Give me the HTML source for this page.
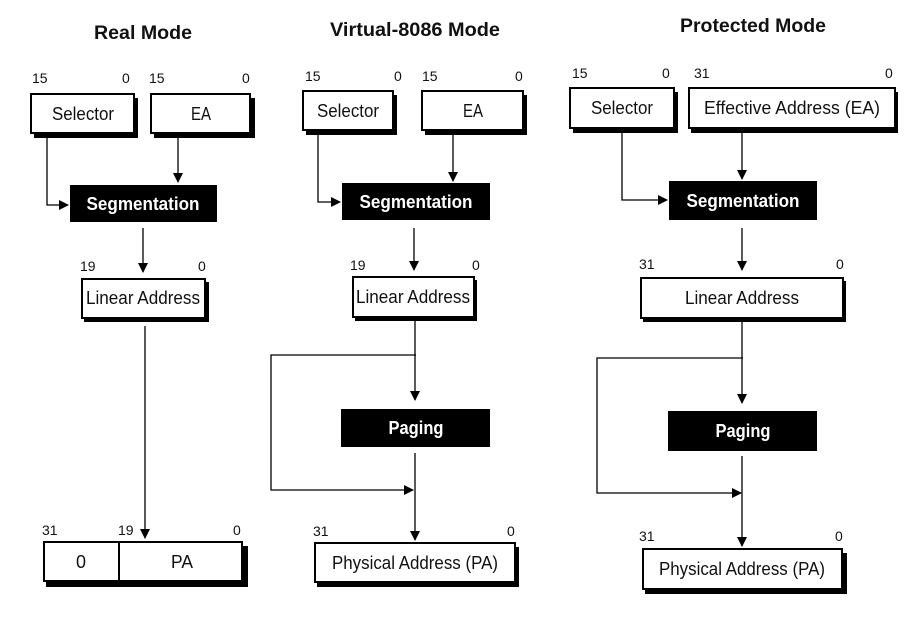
<!DOCTYPE html>
<html><head><meta charset="utf-8"><style>
html,body{margin:0;padding:0;background:#fff;}
svg{display:block}
text{font-family:"Liberation Sans Narrow","Liberation Sans",sans-serif;fill:#111;}
.t{font-size:19px;font-weight:bold;text-anchor:middle}
.n{font-size:14px}
.l{font-size:18px;text-anchor:middle}
.w{font-size:18px;font-weight:bold;fill:#fff;text-anchor:middle}
.b{fill:#fff;stroke:#000;stroke-width:2}
.s{fill:#000}
.ln{stroke:#000;stroke-width:1.3;fill:none}
</style></head><body>
<svg width="908" height="622" viewBox="0 0 908 622" xmlns="http://www.w3.org/2000/svg">
<defs><marker id="a" markerWidth="10" markerHeight="10" refX="9" refY="5" orient="auto" markerUnits="userSpaceOnUse"><path d="M0,0 L10,5 L0,10 z" fill="#000"/></marker></defs>

<!-- Real Mode -->
<text class="t" x="143" y="39" textLength="98" lengthAdjust="spacingAndGlyphs">Real Mode</text>
<text class="n" x="32" y="83">15</text><text class="n" x="122" y="83">0</text>
<text class="n" x="149" y="83">15</text><text class="n" x="242" y="83">0</text>
<rect class="s" x="34" y="98" width="104" height="40"/><rect class="b" x="31" y="94" width="103" height="39"/>
<text class="l" x="83" y="120" textLength="62" lengthAdjust="spacingAndGlyphs">Selector</text>
<rect class="s" x="154" y="98" width="101" height="40"/><rect class="b" x="151" y="94" width="99" height="39"/>
<text class="l" x="201" y="120" textLength="20" lengthAdjust="spacingAndGlyphs">EA</text>
<path class="ln" d="M47,134 V205 H68" marker-end="url(#a)"/>
<path class="ln" d="M178,134 V182" marker-end="url(#a)"/>
<rect x="70" y="185" width="147" height="37" fill="#000"/>
<text class="w" x="143" y="210" textLength="113" lengthAdjust="spacingAndGlyphs">Segmentation</text>
<path class="ln" d="M143,228 V272" marker-end="url(#a)"/>
<text class="n" x="80" y="271">19</text><text class="n" x="198" y="271">0</text>
<rect class="s" x="84" y="282" width="125" height="40"/><rect class="b" x="82" y="279" width="123" height="39"/>
<text class="l" x="143" y="304" textLength="114" lengthAdjust="spacingAndGlyphs">Linear Address</text>
<path class="ln" d="M145,326 V538" marker-end="url(#a)"/>
<text class="n" x="42" y="535">31</text><text class="n" x="118" y="535">19</text><text class="n" x="233" y="535">0</text>
<rect class="s" x="46" y="546" width="202" height="41"/><rect class="b" x="44" y="542" width="198" height="39"/>
<line x1="119" y1="542" x2="119" y2="581" stroke="#000" stroke-width="2"/>
<text class="l" x="81" y="568">0</text><text class="l" x="182" y="568" textLength="22" lengthAdjust="spacingAndGlyphs">PA</text>

<!-- Virtual-8086 -->
<text class="t" x="415" y="36" textLength="170" lengthAdjust="spacingAndGlyphs">Virtual-8086 Mode</text>
<text class="n" x="305" y="81">15</text><text class="n" x="394" y="81">0</text>
<text class="n" x="422" y="81">15</text><text class="n" x="515" y="81">0</text>
<rect class="s" x="306" y="95" width="91" height="40"/><rect class="b" x="303" y="91" width="90" height="39"/>
<text class="l" x="348" y="117" textLength="62" lengthAdjust="spacingAndGlyphs">Selector</text>
<rect class="s" x="425" y="95" width="102" height="40"/><rect class="b" x="422" y="91" width="101" height="39"/>
<text class="l" x="473" y="117" textLength="20" lengthAdjust="spacingAndGlyphs">EA</text>
<path class="ln" d="M318,131 V202 H340" marker-end="url(#a)"/>
<path class="ln" d="M453,131 V181" marker-end="url(#a)"/>
<rect x="342" y="183" width="148" height="37" fill="#000"/>
<text class="w" x="416" y="208" textLength="113" lengthAdjust="spacingAndGlyphs">Segmentation</text>
<path class="ln" d="M414,228 V270" marker-end="url(#a)"/>
<text class="n" x="350" y="270">19</text><text class="n" x="472" y="270">0</text>
<rect class="s" x="355" y="280" width="122" height="41"/><rect class="b" x="353" y="277" width="121" height="40"/>
<text class="l" x="413" y="303" textLength="114" lengthAdjust="spacingAndGlyphs">Linear Address</text>
<path class="ln" d="M415,317 V400" marker-end="url(#a)"/>
<path class="ln" d="M416,355 H271 V490 H413" marker-end="url(#a)"/>
<rect x="341" y="409" width="149" height="38" fill="#000"/>
<text class="w" x="416" y="434" textLength="55" lengthAdjust="spacingAndGlyphs">Paging</text>
<path class="ln" d="M415,453 V540" marker-end="url(#a)"/>
<text class="n" x="313" y="536">31</text><text class="n" x="507" y="536">0</text>
<rect class="s" x="317" y="547" width="202" height="40"/><rect class="b" x="315" y="543" width="200" height="39"/>
<text class="l" x="415" y="569" textLength="166" lengthAdjust="spacingAndGlyphs">Physical Address (PA)</text>

<!-- Protected -->
<text class="t" x="753" y="32" textLength="146" lengthAdjust="spacingAndGlyphs">Protected Mode</text>
<text class="n" x="572" y="78">15</text><text class="n" x="662" y="78">0</text>
<text class="n" x="694" y="78">31</text><text class="n" x="885" y="78">0</text>
<rect class="s" x="573" y="92" width="105" height="41"/><rect class="b" x="570" y="88" width="104" height="40"/>
<text class="l" x="622" y="114" textLength="62" lengthAdjust="spacingAndGlyphs">Selector</text>
<rect class="s" x="691" y="92" width="207" height="41"/><rect class="b" x="689" y="88" width="206" height="40"/>
<text class="l" x="792" y="114" textLength="176" lengthAdjust="spacingAndGlyphs">Effective Address (EA)</text>
<path class="ln" d="M622,129 V200 H667" marker-end="url(#a)"/>
<path class="ln" d="M742,129 V179" marker-end="url(#a)"/>
<rect x="669" y="181" width="148" height="39" fill="#000"/>
<text class="w" x="743" y="207" textLength="113" lengthAdjust="spacingAndGlyphs">Segmentation</text>
<path class="ln" d="M742,228 V270" marker-end="url(#a)"/>
<text class="n" x="639" y="269">31</text><text class="n" x="836" y="269">0</text>
<rect class="s" x="643" y="281" width="203" height="41"/><rect class="b" x="641" y="278" width="202" height="40"/>
<text class="l" x="742" y="304" textLength="114" lengthAdjust="spacingAndGlyphs">Linear Address</text>
<path class="ln" d="M742,318 V403" marker-end="url(#a)"/>
<path class="ln" d="M743,358 H597 V493 H741" marker-end="url(#a)"/>
<rect x="668" y="411" width="149" height="40" fill="#000"/>
<text class="w" x="743" y="437" textLength="55" lengthAdjust="spacingAndGlyphs">Paging</text>
<path class="ln" d="M742,456 V546" marker-end="url(#a)"/>
<text class="n" x="639" y="541">31</text><text class="n" x="835" y="541">0</text>
<rect class="s" x="645" y="553" width="202" height="41"/><rect class="b" x="643" y="549" width="199" height="40"/>
<text class="l" x="742" y="575" textLength="166" lengthAdjust="spacingAndGlyphs">Physical Address (PA)</text>
</svg>
</body></html>
